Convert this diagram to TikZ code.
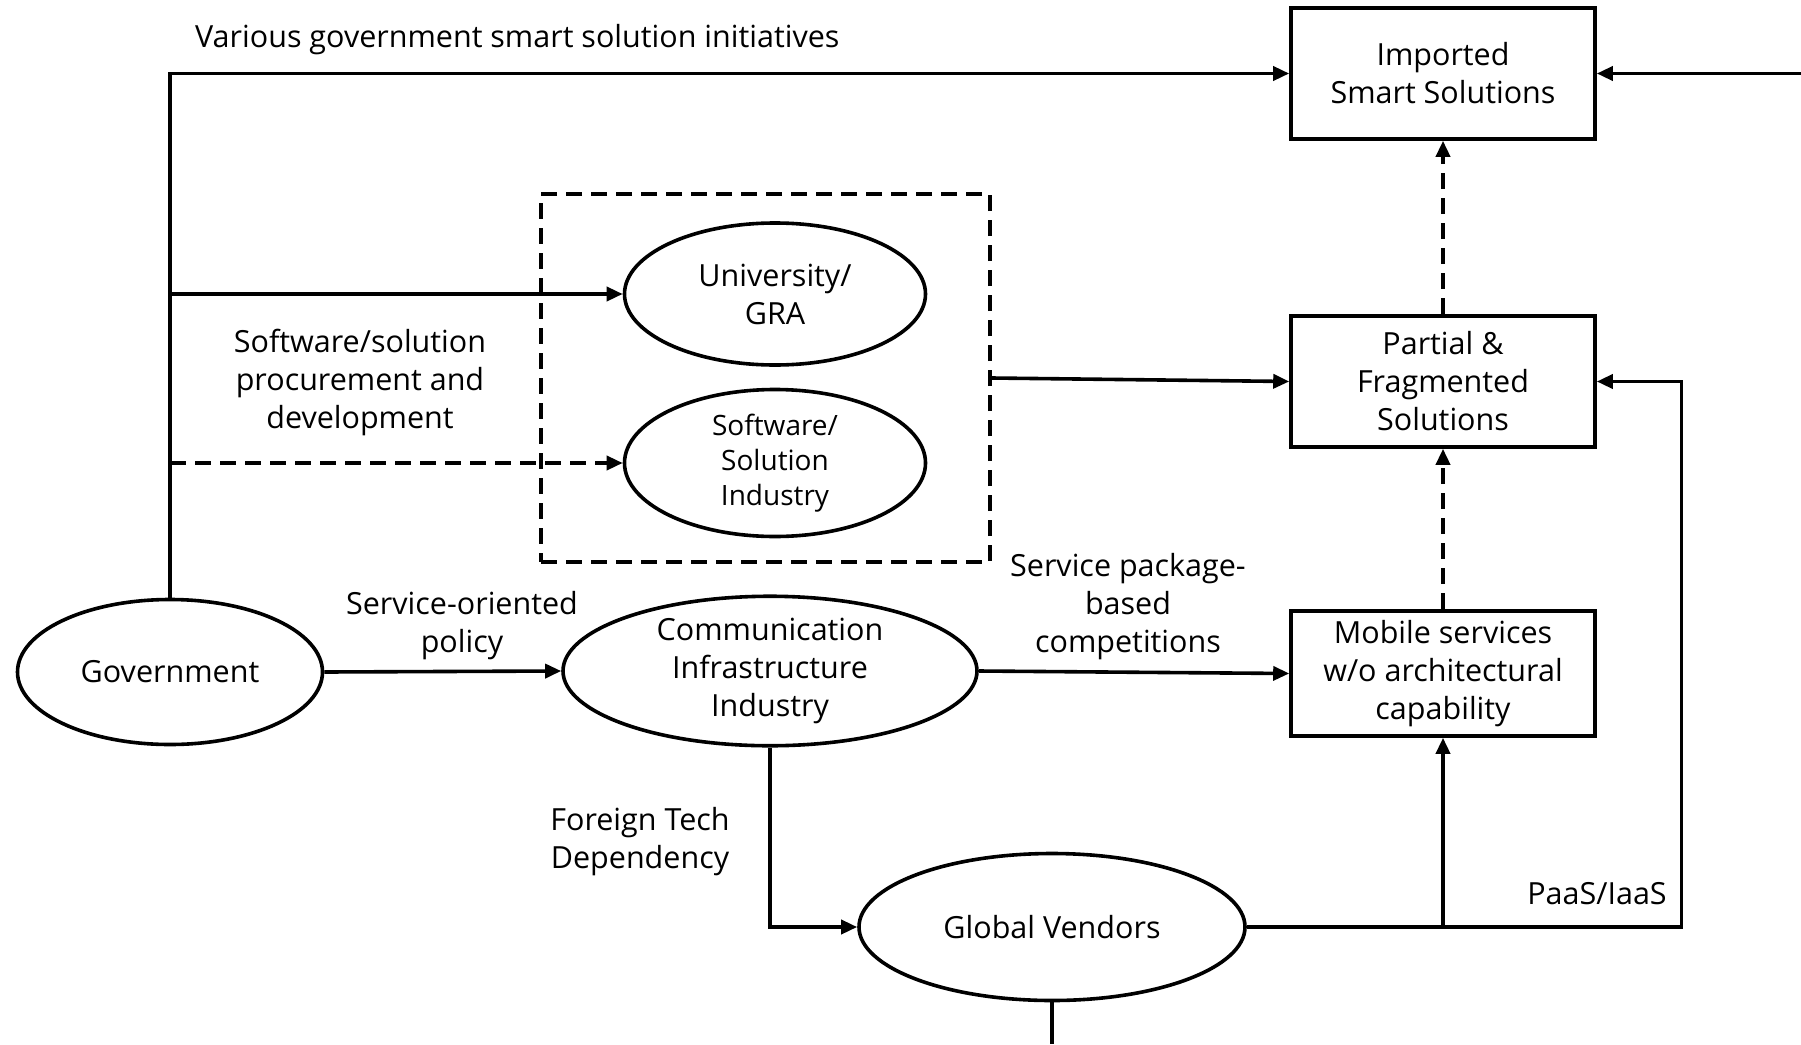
\documentclass[tikz,border=0pt]{standalone}
\usepackage{fontspec}
\setmainfont{Open Sans}
\usetikzlibrary{shapes.geometric,arrows.meta}
\begin{document}
\begin{tikzpicture}[x=1pt,y=-1pt,
  every node/.style={font=\fontsize{30.5}{38}\selectfont, align=center, inner sep=0pt},
  ell/.style={draw, line width=3.6pt, ellipse},
  boxn/.style={draw, line width=3.6pt, rectangle, minimum width=304pt},
  arr/.style={line width=3.6pt, -{Triangle[length=16pt,width=14pt]}},
  dsh/.style={dash pattern=on 16pt off 9pt},
  lbl/.style={font=\fontsize{30.5}{38}\selectfont}
]
\useasboundingbox (0,0) rectangle (1801,1044);
% boxes
\node[boxn, minimum height=131pt] (imported) at (1443,73.5) {Imported\\Smart Solutions};
\node[boxn, minimum height=131pt] (partial) at (1443,381.5) {Partial \&\\Fragmented\\Solutions};
\node[boxn, minimum height=125pt] (mobile) at (1443,673.5) {Mobile services\\w/o architectural\\capability};
% dashed group
\node[draw, line width=3.6pt, dsh, minimum width=449pt, minimum height=368pt] (dbox) at (765.5,378) {};
% ellipses
\node[ell, minimum width=301pt, minimum height=142pt] (uni) at (775,294) {University/\\GRA};
\node[ell, minimum width=301pt, minimum height=147pt, font=\fontsize{28}{35}\selectfont] (soft) at (775,463) {Software/\\Solution\\Industry};
\node[ell, minimum width=305pt, minimum height=145pt] (gov) at (170,672) {Government};
\node[ell, minimum width=414pt, minimum height=147pt] (comm) at (770,671) {Communication\\Infrastructure\\Industry};
\node[ell, minimum width=386pt, minimum height=147pt] (global) at (1052,927) {Global Vendors};
% coordinates
\coordinate (rin) at (1801,73.5);
\coordinate (rt) at (1681.6,381.5);
\coordinate (bot) at (1052,1044);
% connectors
\draw[arr] (gov.north) |- (imported.west);
\draw[arr] (gov.north |- uni.west) -- (uni.west);
\draw[arr, dsh] (gov.north |- soft.west) -- (soft.west);
\draw[arr] (dbox.east) -- (partial.west);
\draw[arr] (gov.east) -- (comm.west);
\draw[arr] (comm.east) -- (mobile.west);
\draw[arr] (comm.south) |- (global.west);
\draw[arr] (global.east) -| (mobile.south);
\draw[arr] (global.east) -| (rt) -- (partial.east);
\draw[arr] (rin) -- (imported.east);
\draw[line width=3.6pt] (global.south) -- (bot);
\draw[arr, dsh] (mobile.north) -- (partial.south);
\draw[arr, dsh] (partial.north) -- (imported.south);
% labels
\node[lbl, anchor=west] (l1) at (195,40) {Various government smart solution initiatives};
\node[lbl] (l2) at (360,382) {Software/solution\\procurement and\\development};
\node[lbl] (l3) at (462,626) {Service-oriented\\policy};
\node[lbl] (l4) at (1128,607) {Service package-\\based\\competitions};
\node[lbl] (l5) at (640,842) {Foreign Tech\\Dependency};
\node[lbl] (l6) at (1597,894) {PaaS/IaaS};
\end{tikzpicture}
\end{document}
